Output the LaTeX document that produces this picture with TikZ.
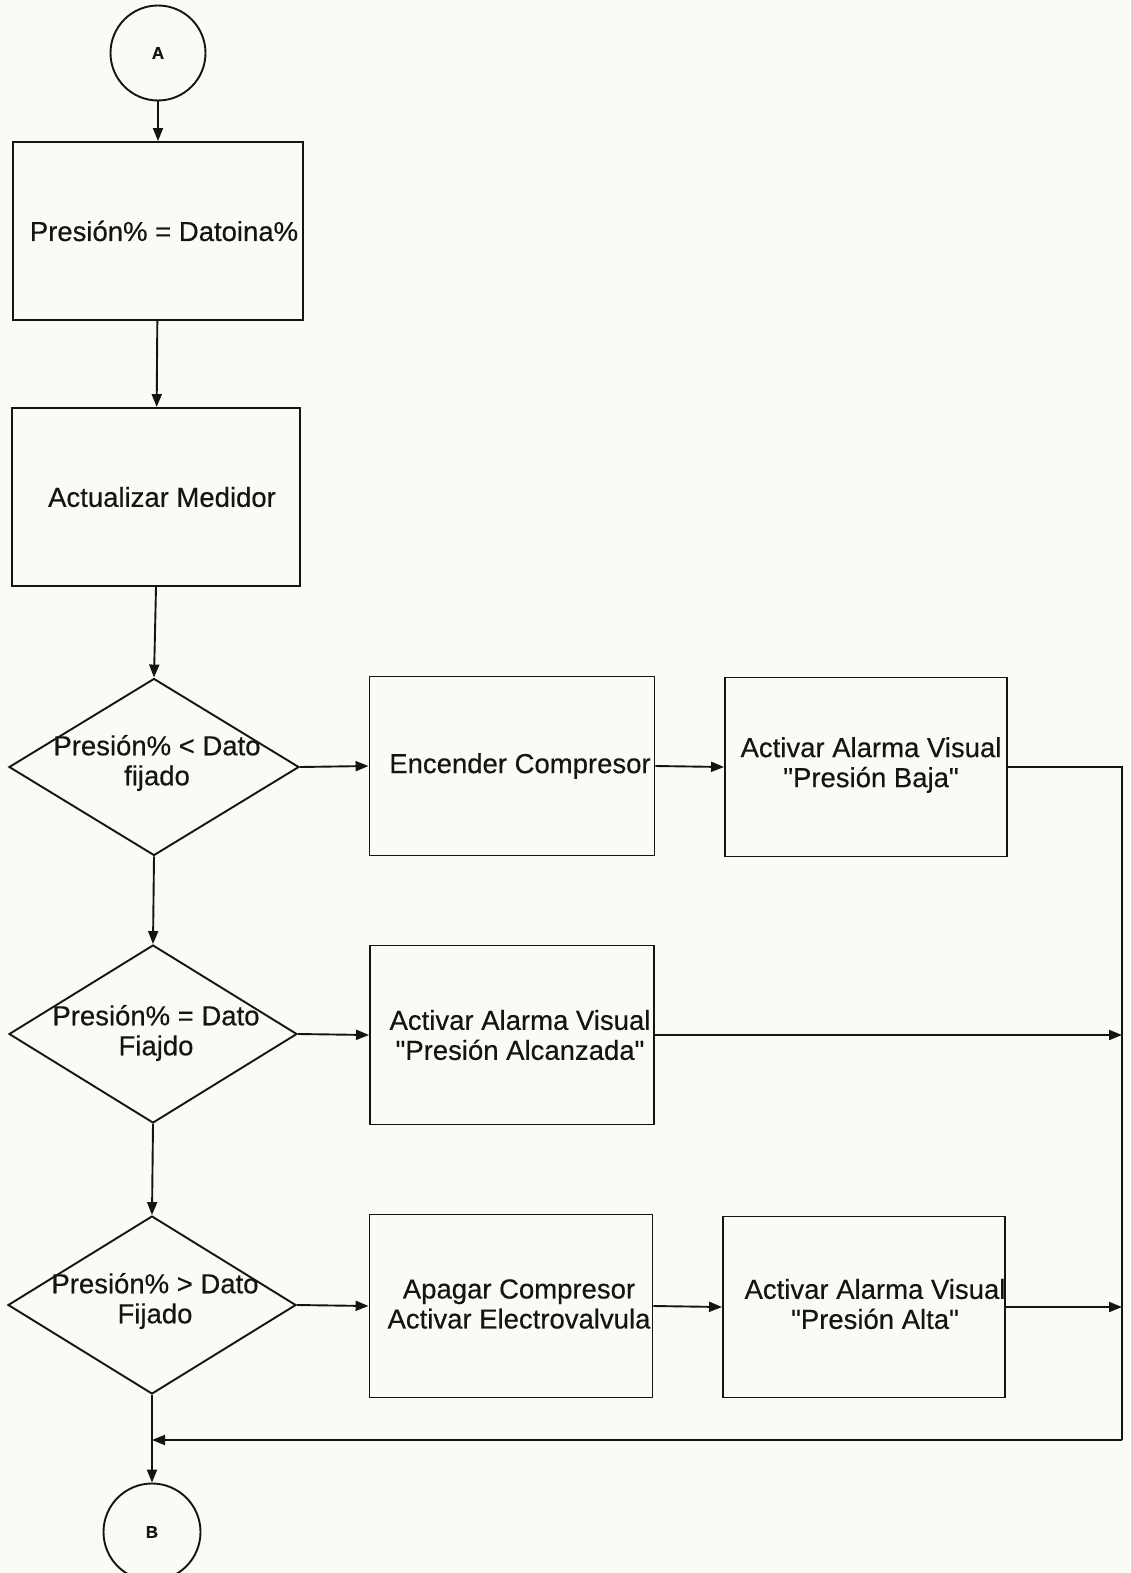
\documentclass[tikz,border=0pt]{standalone}
\usepackage{fontspec}
\setmainfont{Liberation Sans}[Ligatures=TeXOff, FakeBold=0.4]
\usetikzlibrary{shapes.geometric,arrows.meta}
\definecolor{paper}{RGB}{251,251,245}
\definecolor{ink}{RGB}{20,20,20}
\begin{document}
\begin{tikzpicture}[x=1pt,y=-1pt,
  line width=1.9pt, color=ink,
  box/.style={draw, rectangle, inner sep=0pt},
  decision/.style={draw, diamond, inner sep=0pt},
  conn/.style={draw, circle, inner sep=0pt, minimum size=95pt,
    font=\fontsize{17}{20}\selectfont\bfseries},
  txt/.style={font=\fontsize{27.5}{30}\selectfont, align=center, inner sep=0pt},
  flow/.style={-{Triangle[length=13pt,width=10pt]}},
]
\useasboundingbox (0,0) rectangle (1130,1573);
\clip (0,0) rectangle (1130,1573);
\fill[paper] (0,0) rectangle (1130,1573);

% main column
\node[conn] (A) at (158,53) {A};
\node[box, minimum width=290pt, minimum height=178pt,
  label={[txt,xshift=6pt]center:{Presión\% = Datoina\%}}] (p1) at (158,231) {};
\node[box, minimum width=288pt, minimum height=178pt,
  label={[txt,xshift=6pt]center:{Actualizar Medidor}}] (p2) at (156,497) {};

% decisions
\node[decision, minimum width=290pt, minimum height=177pt,
  label={[txt,xshift=3pt,yshift=4pt]center:{Presión\% < Dato\\fijado}}] (d1) at (154,767) {};
\node[decision, minimum width=288pt, minimum height=178pt,
  label={[txt,xshift=3pt,yshift=1pt]center:{Presión\% = Dato\\Fiajdo}}] (d2) at (153,1034) {};
\node[decision, minimum width=288pt, minimum height=178pt,
  label={[txt,xshift=3pt,yshift=4pt]center:{Presión\% > Dato\\Fijado}}] (d3) at (152,1305) {};

% actions
\node[box, minimum width=285pt, minimum height=179pt,
  label={[txt,xshift=8pt]center:{Encender Compresor}}] (b1) at (512,766) {};
\node[box, minimum width=282pt, minimum height=179pt,
  label={[txt,xshift=5pt,yshift=2pt]center:{Activar Alarma Visual\\"Presión Baja"}}] (b2) at (866,767) {};
\node[box, minimum width=284pt, minimum height=179pt,
  label={[txt,xshift=8pt]center:{Activar Alarma Visual\\"Presión Alcanzada"}}] (b3) at (512,1035) {};
\node[box, minimum width=283pt, minimum height=183pt,
  label={[txt,xshift=8pt,yshift=2pt]center:{Apagar Compresor\\Activar Electrovalvula}}] (b4) at (511,1306) {};
\node[box, minimum width=282pt, minimum height=181pt,
  label={[txt,xshift=11pt,yshift=3pt]center:{Activar Alarma Visual\\"Presión Alta"}}] (b5) at (864,1307) {};

\node[conn, minimum size=97pt] (B) at (152,1532) {B};

% return rail
\coordinate (railbot) at (1122,1440);
\coordinate (merge) at (152,1440);

% connectors
\draw[flow] (A) -- (p1);
\draw[flow] (p1) -- (p2);
\draw[flow] (p2.south) -- (d1.north);
\draw[flow] (d1.south) -- (d2.north);
\draw[flow] (d2.south) -- (d3.north);
\draw[flow] (d3.south) -- (B.north);

\draw[flow] (d1.east) -- (b1.west);
\draw[flow] (b1.east) -- (b2.west);
\draw[flow] (d2.east) -- (b3.west);
\draw[flow] (d3.east) -- (b4.west);
\draw[flow] (b4.east) -- (b5.west);

\draw (b2.east) -| (railbot);
\draw[flow] (b3.east) -- (b3.east -| railbot);
\draw[flow] (b5.east) -- (b5.east -| railbot);
\draw[flow] (railbot) -- (merge);
\end{tikzpicture}
\end{document}
